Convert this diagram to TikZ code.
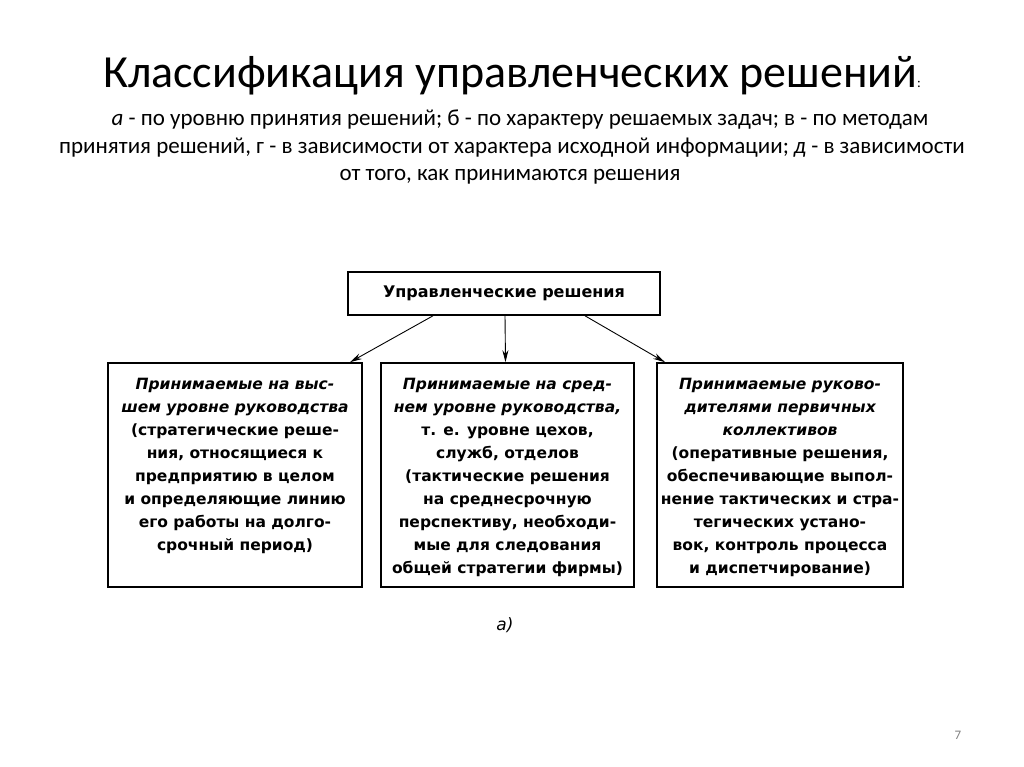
\documentclass[tikz,border=0pt]{standalone}
\usepackage{fontspec}
\setmainfont{Carlito}
\newfontfamily\scanfont{DejaVu Sans}
\usetikzlibrary{arrows.meta}

\begin{document}
\begin{tikzpicture}[x=1pt, y=-1pt,
    box/.style={draw, line width=1.6pt, minimum height=224pt},
    boxtext/.style={anchor=north, align=center, inner sep=0pt,
      font=\scanfont\bfseries\fontsize{15.5}{23}\selectfont},
    capline/.style={anchor=base, font=\fontsize{23}{27}\selectfont},
    link/.style={line width=0.9pt, -{Stealth[length=12pt,width=6pt]}}]
  \useasboundingbox (0,0) rectangle (1024,767);
  % title and caption
  \node[anchor=base, font=\fontsize{46}{50}\selectfont] (title) at (512,88)
    {Классификация управленческих решений{\fontsize{14}{14}\selectfont:}};
  \node[capline] (cap1) at (520,126)
    {\textit{а} - по уровню принятия решений; б - по характеру решаемых задач; в - по методам};
  \node[capline] (cap2) at (512,154)
    {принятия решений, г - в зависимости от характера исходной информации; \textit{д} - в зависимости};
  \node[capline] (cap3) at (510,181) {от того, как принимаются решения};
  % diagram
  \node[draw, line width=1.6pt, minimum width=312pt, minimum height=43pt,
    font=\scanfont\bfseries\fontsize{16}{18}\selectfont] (top) at (504,293.5) {Управленческие решения};
  \node[box, minimum width=254pt] (high) at (235,475) {};
  \node[box, minimum width=253pt] (mid) at (507.5,475) {};
  \node[box, minimum width=246pt] (low) at (780,475) {};
  \node[boxtext] (highText) at ([yshift=-16pt]high.north)
    {\itshape Принимаемые на выс-\\\itshape шем уровне руководства\\
     (стратегические реше-\\ния, относящиеся к\\предприятию в целом\\
     и определяющие линию\\его работы на долго-\\срочный период)};
  \node[boxtext] (midText) at ([yshift=-16pt]mid.north)
    {\itshape Принимаемые на сред-\\\itshape нем уровне руководства,\\
     т. е. уровне цехов,\\служб, отделов\\(тактические решения\\
     на среднесрочную\\перспективу, необходи-\\мые для следования\\общей стратегии фирмы)};
  \node[boxtext] (lowText) at ([yshift=-16pt]low.north)
    {\itshape Принимаемые руково-\\\itshape дителями первичных\\\itshape коллективов\\
     (оперативные решения,\\обеспечивающие выпол-\\нение тактических и стра-\\
     тегических устано-\\вок, контроль процесса\\и диспетчирование)};
  \draw[link] ([xshift=-71pt]top.south) -- ([xshift=115pt]high.north);
  \draw[link] ([xshift=1pt]top.south) -- ([xshift=-2pt]mid.north);
  \draw[link] ([xshift=81pt]top.south) -- ([xshift=-115pt]low.north);
  \node[font=\scanfont\itshape\fontsize{17}{18}\selectfont] (part) at (505,625) {а)};
  \node[font=\fontsize{13}{15}\selectfont, text=gray] (page) at (958,735) {7};
\end{tikzpicture}
\end{document}
